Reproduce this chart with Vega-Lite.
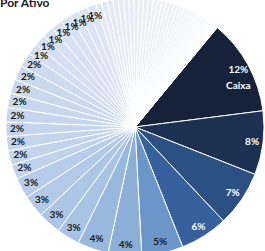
{
  "$schema": "https://vega.github.io/schema/vega-lite/v6.json",
  "width": 260,
  "height": 248,
  "padding": {"left": 5, "top": 3, "right": 0, "bottom": 0},
  "autosize": {"type": "none"},
  "background": "white",
  "title": {"text": "Por Ativo", "anchor": "start", "frame": "group", "fontSize": 12, "font": "Lato", "fontWeight": "bold", "color": "#222222", "offset": -20, "dx": -5, "dy": 3, "baseline": "alphabetic"},
  "data": {"values": [
    {"order": 1, "value": 12, "lbl": "12%\nCaixa"},
    {"order": 2, "value": 8, "lbl": "8%"},
    {"order": 3, "value": 7, "lbl": "7%"},
    {"order": 4, "value": 6, "lbl": "6%"},
    {"order": 5, "value": 5.2, "lbl": "5%"},
    {"order": 6, "value": 4.2, "lbl": "4%"},
    {"order": 7, "value": 3.9, "lbl": "4%"},
    {"order": 8, "value": 2.9, "lbl": "3%"},
    {"order": 9, "value": 2.9, "lbl": "3%"},
    {"order": 10, "value": 2.8, "lbl": "3%"},
    {"order": 11, "value": 2.6, "lbl": "3%"},
    {"order": 12, "value": 1.8, "lbl": "2%"},
    {"order": 13, "value": 1.8, "lbl": "2%"},
    {"order": 14, "value": 1.8, "lbl": "2%"},
    {"order": 15, "value": 1.8, "lbl": "2%"},
    {"order": 16, "value": 1.8, "lbl": "2%"},
    {"order": 17, "value": 1.8, "lbl": "2%"},
    {"order": 18, "value": 1.8, "lbl": "2%"},
    {"order": 19, "value": 1.8, "lbl": "2%"},
    {"order": 20, "value": 1.8, "lbl": "2%"},
    {"order": 21, "value": 1.45, "lbl": "1%"},
    {"order": 22, "value": 1.45, "lbl": "1%"},
    {"order": 23, "value": 1.4, "lbl": "1%"},
    {"order": 24, "value": 1.4, "lbl": "1%"},
    {"order": 25, "value": 1.3, "lbl": "1%"},
    {"order": 26, "value": 1.2, "lbl": "1%"},
    {"order": 27, "value": 1.15, "lbl": "1%"},
    {"order": 28, "value": 1.1, "lbl": "1%"},
    {"order": 29, "value": 0.74, "lbl": ""},
    {"order": 30, "value": 0.72, "lbl": ""},
    {"order": 31, "value": 0.7, "lbl": ""},
    {"order": 32, "value": 0.68, "lbl": ""},
    {"order": 33, "value": 0.67, "lbl": ""},
    {"order": 34, "value": 0.66, "lbl": ""},
    {"order": 35, "value": 0.64, "lbl": ""},
    {"order": 36, "value": 0.62, "lbl": ""},
    {"order": 37, "value": 0.6, "lbl": ""},
    {"order": 38, "value": 0.59, "lbl": ""},
    {"order": 39, "value": 0.58, "lbl": ""},
    {"order": 40, "value": 0.56, "lbl": ""},
    {"order": 41, "value": 0.55, "lbl": ""},
    {"order": 42, "value": 0.53, "lbl": ""},
    {"order": 43, "value": 0.51, "lbl": ""},
    {"order": 44, "value": 0.5, "lbl": ""},
    {"order": 45, "value": 0.48, "lbl": ""},
    {"order": 46, "value": 0.46, "lbl": ""},
    {"order": 47, "value": 0.44, "lbl": ""},
    {"order": 48, "value": 0.42, "lbl": ""},
    {"order": 49, "value": 0.4, "lbl": ""},
    {"order": 50, "value": 0.38, "lbl": ""},
    {"order": 51, "value": 0.36, "lbl": ""},
    {"order": 52, "value": 0.34, "lbl": ""},
    {"order": 53, "value": 0.32, "lbl": ""},
    {"order": 54, "value": 0.3, "lbl": ""},
    {"order": 55, "value": 0.28, "lbl": ""},
    {"order": 56, "value": 0.26, "lbl": ""},
    {"order": 57, "value": 0.24, "lbl": ""},
    {"order": 58, "value": 0.22, "lbl": ""},
    {"order": 59, "value": 0.2, "lbl": ""},
    {"order": 60, "value": 0.18, "lbl": ""},
    {"order": 61, "value": 0.16, "lbl": ""},
    {"order": 62, "value": 0.14, "lbl": ""},
    {"order": 63, "value": 0.12, "lbl": ""},
    {"order": 64, "value": 0.1, "lbl": ""},
    {"order": 65, "value": 0.09, "lbl": ""},
    {"order": 66, "value": 0.08, "lbl": ""},
    {"order": 67, "value": 0.07, "lbl": ""},
    {"order": 68, "value": 0.06, "lbl": ""}
  ]},
  "encoding": {
    "theta": {"field": "value", "type": "quantitative", "stack": true, "scale": {"range": [0.6912, 6.9744]}},
    "order": {"field": "order", "type": "quantitative"}
  },
  "layer": [
    {
      "mark": {"type": "arc", "outerRadius": 129, "stroke": "white", "strokeWidth": 1},
      "encoding": {
        "color": {
          "field": "order", "type": "quantitative", "legend": null,
          "scale": {
            "interpolate": "rgb",
            "domain": [1, 2, 3, 4, 5, 6, 7, 8, 11, 12, 20, 21, 28, 29, 68],
            "range": ["#16223a", "#1c3152", "#2d5082", "#36619c", "#6b96ca", "#8cafd8", "#98b8de", "#a9c3e4", "#b6cce8", "#c0d2ec", "#cddaef", "#d3def1", "#dce5f4", "#e2e9f5", "#ffffff"]
          }
        }
      }
    },
    {
      "mark": {"type": "text", "radius": 118, "font": "Lato", "fontSize": 10, "fontWeight": "bold", "lineBreak": "\n", "lineHeight": 16, "align": "center", "baseline": "middle"},
      "encoding": {
        "text": {"field": "lbl"},
        "color": {"condition": {"test": "datum.order <= 4", "value": "white"}, "value": "#1a1a1a"}
      }
    }
  ]
}
